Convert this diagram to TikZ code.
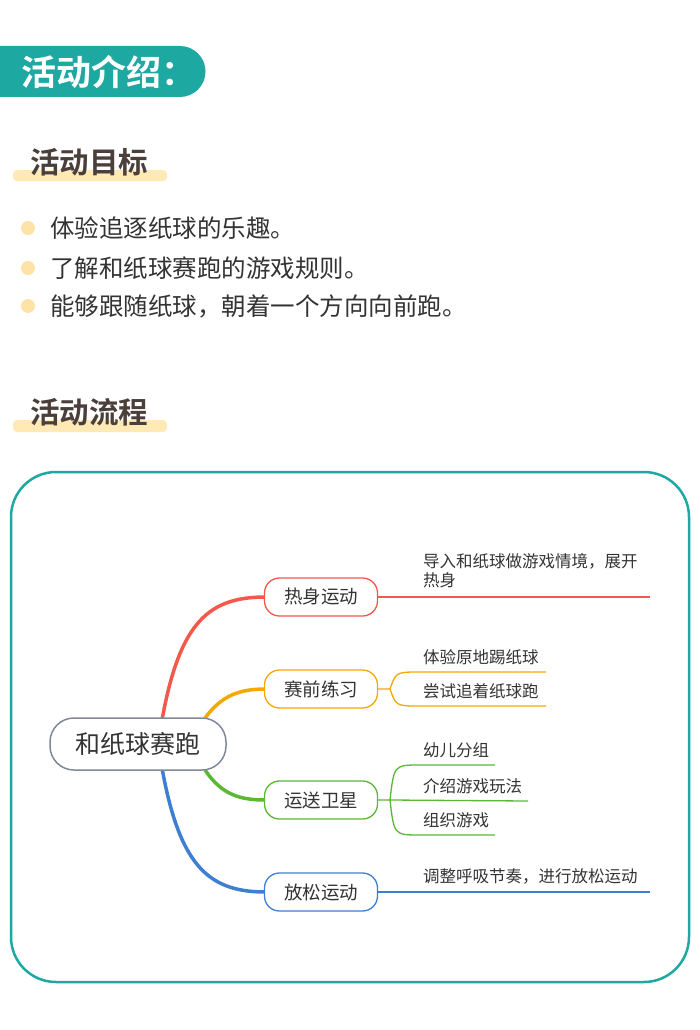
\documentclass[tikz,border=0pt]{standalone}
\usepackage{fontspec}
\setmainfont{Noto Sans CJK SC}
\newfontfamily\boldcjk{Noto Sans CJK SC Bold}
\definecolor{teal1}{HTML}{1EA8A2}
\definecolor{brown1}{HTML}{4A3F3A}
\definecolor{hl}{HTML}{FFE9B5}
\definecolor{dot}{HTML}{FFE2A8}
\definecolor{txt}{HTML}{333333}
\definecolor{cred}{HTML}{F2594B}
\definecolor{corg}{HTML}{F5A800}
\definecolor{cgrn}{HTML}{5BB734}
\definecolor{cblu}{HTML}{3F7FD3}
\definecolor{cgry}{HTML}{7F8799}
\tikzset{
 sec/.style={anchor=west,text=brown1,font=\boldcjk\fontsize{29.5}{32}\selectfont,inner sep=0},
 bul/.style={anchor=west,text=txt,font=\fontsize{24.5}{28}\selectfont,inner sep=0},
 br/.style={draw,line width=1.3,rounded corners=15,minimum width=113,minimum height=38,inner sep=0,text=txt,font=\fontsize{18.5}{21}\selectfont,fill=white},
 lf/.style={anchor=west,text=txt,font=\fontsize{16.5}{19}\selectfont,inner sep=0,align=left},
}
\begin{document}
\begin{tikzpicture}[x=1pt,y=-1pt]
\useasboundingbox (0,0) rectangle (700,1030);
% header
\fill[teal1] (0,46) -- (180,46) arc[start angle=-90,end angle=90,radius=25.5] -- (0,97) -- cycle;
\node[anchor=west,text=white,font=\boldcjk\fontsize{35}{38}\selectfont,inner sep=0] (h) at (21,72) {活动介绍：};
% section 1
\fill[hl,rounded corners=4] (13,170) rectangle (167,181);
\node[sec] (s1) at (30,162) {活动目标};
\foreach \yy/\t/\n in {228/体验追逐纸球的乐趣。/b1,268/了解和纸球赛跑的游戏规则。/b2,306/能够跟随纸球，朝着一个方向向前跑。/b3}{
 \fill[dot] (28,\yy) circle (7);
 \node[bul] (\n) at (50,\yy) {\t};
}
% section 2
\fill[hl,rounded corners=4] (13,420) rectangle (167,432);
\node[sec] (s2) at (30,412) {活动流程};
% frame
\draw[teal1,line width=2.5,rounded corners=45] (11,472) rectangle (689,982);
% branches curves
\draw[cred,line width=3.5] (162,720) .. controls (180,620) and (210,597) .. (266,597);
\draw[cblu,line width=3.5] (162,768) .. controls (180,868) and (210,892) .. (266,892);
\draw[corg,line width=3.5] (205,718) .. controls (222,695) and (240,689) .. (266,689);
\draw[cgrn,line width=3.5] (205,770) .. controls (222,795) and (240,800) .. (266,800);
% center
\node[draw=cgry,line width=1.5,fill=white,rounded corners=24,minimum width=176,minimum height=52,inner sep=0,text=txt,font=\fontsize{25}{28}\selectfont] (c) at (138,744) {和纸球赛跑};
\node[br,draw=cred] (n1) at (321,597) {热身运动};
\node[br,draw=corg] (n2) at (321,689) {赛前练习};
\node[br,draw=cgrn] (n3) at (321,800) {运送卫星};
\node[br,draw=cblu] (n4) at (321,892) {放松运动};
% leaves
\coordinate (e1) at (650,597);
\draw[cred,line width=1.3] (n1.east) -- (e1);
\node[lf] (t1a) at (423,561) {导入和纸球做游戏情境，展开};
\node[lf] (t1b) at (423,580) {热身};
\coordinate (e4) at (650,892);
\draw[cblu,line width=1.3] (n4.east) -- (e4);
\node[lf] (t4) at (423,876) {调整呼吸节奏，进行放松运动};
% orange
\coordinate (o0) at (390,689);
\coordinate (oa) at (546,672); \coordinate (ob) at (546,706);
\draw[corg,line width=1.3] (n2.east) -- (o0) .. controls (396,672) .. (420,672) -- (oa);
\draw[corg,line width=1.3] (o0) .. controls (396,706) .. (420,706) -- (ob);
\node[lf] (t21) at (423,657) {体验原地踢纸球};
\node[lf] (t22) at (423,691) {尝试追着纸球跑};
% green
\coordinate (g0) at (390,800);
\coordinate (ga) at (495,765); \coordinate (gb) at (528,801); \coordinate (gc) at (495,835);
\draw[cgrn,line width=1.3] (n3.east) -- (g0) .. controls (394,765) .. (420,765) -- (ga);
\draw[cgrn,line width=1.3] (g0) -- (gb);
\draw[cgrn,line width=1.3] (g0) .. controls (394,835) .. (420,835) -- (gc);
\node[lf] (t31) at (423,750) {幼儿分组};
\node[lf] (t32) at (423,786) {介绍游戏玩法};
\node[lf] (t33) at (423,820) {组织游戏};
\end{tikzpicture}
\end{document}
